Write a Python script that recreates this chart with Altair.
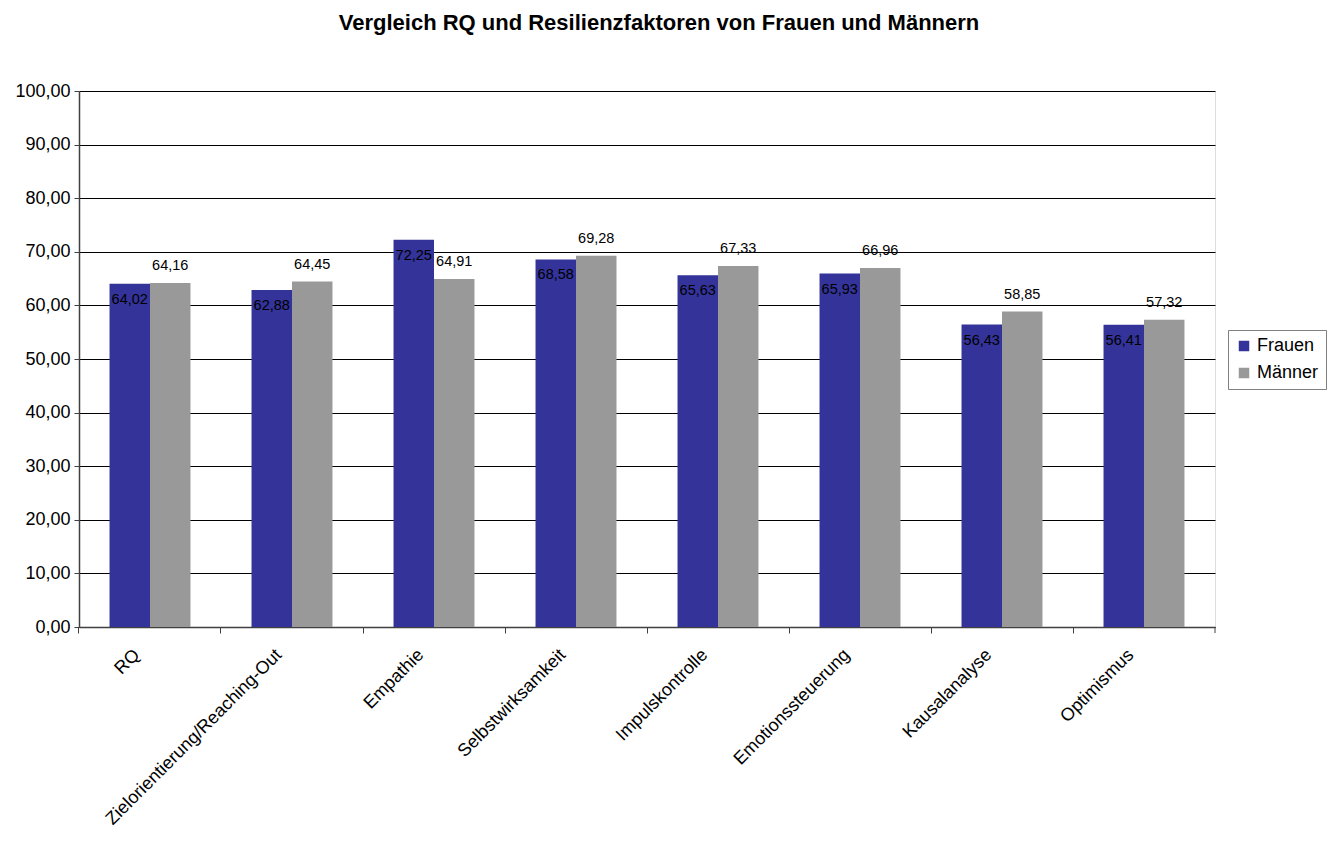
import altair as alt
import pandas as pd

title_text = "Vergleich RQ und Resilienzfaktoren von Frauen und Männern"
categories = ["RQ", "Zielorientierung/Reaching-Out", "Empathie", "Selbstwirksamkeit",
              "Impulskontrolle", "Emotionssteuerung", "Kausalanalyse", "Optimismus"]
frauen = [64.02, 62.88, 72.25, 68.58, 65.63, 65.93, 56.43, 56.41]
maenner = [64.16, 64.45, 64.91, 69.28, 67.33, 66.96, 58.85, 57.32]
series = ["Frauen", "Männer"]
colors = ["#333399", "#999999"]

rows = []
for c, f, m in zip(categories, frauen, maenner):
    rows.append({"cat": c, "serie": "Frauen", "value": f})
    rows.append({"cat": c, "serie": "Männer", "value": m})
df = pd.DataFrame(rows)

W, H = 1136, 536
P = 0.43
FONT = "Liberation Sans"

xscale = alt.Scale(domain=categories, paddingInner=P, paddingOuter=P / 2)
xoff = alt.XOffset("serie:N", scale=alt.Scale(domain=series, paddingInner=0, paddingOuter=0))
yscale = alt.Scale(domain=[0, 100], nice=False)
yaxis = alt.Axis(values=list(range(0, 101, 10)),
                 labelExpr="replace(format(datum.value, '.2f'), '.', ',')",
                 labelFontSize=18, labelFont=FONT, labelColor="#000000", labelPadding=4,
                 tickSize=5, tickColor="#404040", domainColor="#404040", domainWidth=1.5,
                 grid=True, gridColor="#000000", gridWidth=1, gridOpacity=1)

base = alt.Chart(df)

bars = base.mark_bar().encode(
    x=alt.X("cat:N", scale=xscale, sort=categories, title=None,
            axis=alt.Axis(orient="bottom", labelAngle=-45, labelAlign="right", labelBaseline="middle",
                          labelFontSize=18, labelFont=FONT, labelColor="#000000",
                          labelPadding=25, labelOffset=-13,
                          ticks=False, domain=True, domainColor="#404040", domainWidth=1.5,
                          grid=False, labelLimit=400)),
    xOffset=xoff,
    y=alt.Y("value:Q", scale=yscale, title=None, axis=yaxis),
    color=alt.Color("serie:N", scale=alt.Scale(domain=series, range=colors),
                    legend=alt.Legend(title=None, orient="none", legendX=1149, legendY=239,
                                      symbolType="square", symbolSize=110, symbolStrokeWidth=0,
                                      labelFontSize=18, labelFont=FONT, labelColor="#000000",
                                      strokeColor="#808080", fillColor="white", padding=7,
                                      rowPadding=9, symbolOpacity=1)),
)

ticks_layer = base.mark_bar(opacity=0).encode(
    x=alt.X("cat:N", scale=xscale, sort=categories, title=None,
            axis=alt.Axis(orient="bottom", labels=False, ticks=True, tickSize=6,
                          tickColor="#404040", domain=False, grid=False,
                          bandPosition=-P / (2 * (1 - P)))),
    y=alt.Y("value:Q", scale=yscale, title=None, axis=yaxis),
)

end_tick = alt.Chart(pd.DataFrame({"a": [0]})).mark_rule(color="#404040").encode(
    x=alt.value(W), y=alt.value(H), y2=alt.value(H + 6)
)

title_mark = alt.Chart(pd.DataFrame({"t": [title_text]})).mark_text(
    fontSize=22, font=FONT, fontWeight="bold", color="#000000", align="center", baseline="alphabetic"
).encode(x=alt.value(580), y=alt.value(-61), text="t:N")

def labels(name, baseline, dy):
    return base.transform_filter(alt.datum.serie == name).transform_calculate(
        label="replace(format(datum.value, '.2f'), '.', ',')"
    ).mark_text(baseline=baseline, dy=dy, fontSize=14.5, font=FONT, color="#000000").encode(
        x=alt.X("cat:N", scale=xscale, sort=categories, title=None, axis=None),
        xOffset=xoff,
        y=alt.Y("value:Q", scale=yscale, title=None, axis=yaxis),
        text="label:N",
    )

lab_f = labels("Frauen", "top", 9)
lab_m = labels("Männer", "bottom", -10)

chart = alt.layer(bars, ticks_layer, end_tick, lab_f, lab_m, title_mark).resolve_axis(
    x="independent"
).properties(
    width=W, height=H,
    autosize=alt.AutoSizeParams(type="none"),
    padding={"left": 79, "top": 91, "right": 115, "bottom": 214},
).configure_view(stroke="#808080", strokeWidth=1.5).configure(background="white")

chart.save("out.html", embed_options={"renderer": "svg", "actions": False})
